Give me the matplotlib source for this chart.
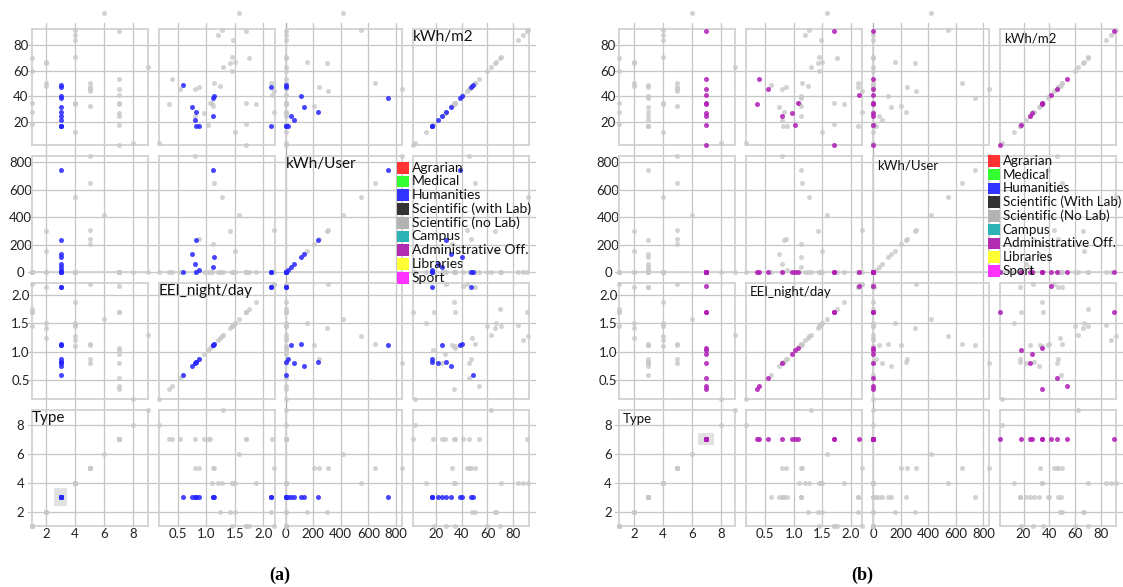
import matplotlib
matplotlib.use("Agg")
import matplotlib.pyplot as plt
from matplotlib.patches import Rectangle

plt.rcParams["font.family"] = ["Lato", "DejaVu Sans"]

# one entry per building: type code, EEI night/day ratio, kWh per user, kWh per m2
types = [1, 1, 1, 1, 1,
         2, 2, 2, 2,
         3, 3, 3, 3, 3, 3, 3, 3, 3, 3, 3,
         4, 4, 4, 4, 4, 4, 4,
         5, 5, 5, 5, 5,
         6,
         7, 7, 7, 7, 7, 7, 7, 7, 7, 7,
         8,
         9]
eei = [1.70, 1.70, 1.75, 2.19, 1.45,
       1.50, 1.42, 2.13, 1.25,
       0.60, 0.75, 0.80, 0.82, 0.83, 0.88, 1.12, 1.13, 1.12, 2.13, 2.13,
       1.27, 1.20, 1.47, 1.45, 1.10, 1.50, 1.88,
       0.80, 1.14, 2.19, 0.87, 1.12,
       1.58,
       1.70, 1.70, 2.15, 1.03, 0.97, 0.80, 1.07, 0.35, 0.55, 0.40,
       0.17,
       1.30]
kwh_user = [0, 0, 0, 0, 0,
            155, 300, 0, 0,
            0, 130, 60, 0, 235, 20, 740, 110, 40, 0, 5,
            545, 0, 0, 0, 0, 0, 0,
            843, 646, 307, 243, 204,
            416,
            0, 0, 0, 0, 0, 0, 0, 0, 0, 0,
            0,
            0]
kwh_m2 = [18.4, 34.8, 70.0, 27.5, 60.0,
          66.8, 66.0, 50.0, 48.0,
          49.0, 32.0, 22.0, 17.0, 28.0, 17.0, 39.0, 40.0, 25.0, 47.0, 17.0,
          91.7, 87.8, 84.0, 70.4, 34.5, 12.5, 34.0,
          46.0, 50.0, 44.0, 47.0, 32.5,
          105.0,
          2.0, 90.6, 41.3, 17.7, 26.7, 24.9, 34.5, 34.0, 45.7, 53.5,
          3.4,
          62.6]

var_names = ["Type", "EEI_night/day", "kWh/User", "kWh/m2"]
var_limits = [(1, 9), (0.17, 2.2), (0, 843), (2, 92)]
var_ticks = [[2, 4, 6, 8], [0.5, 1.0, 1.5, 2.0], [0, 200, 400, 600, 800], [20, 40, 60, 80]]
var_ticklabels = [["2", "4", "6", "8"], ["0.5", "1.0", "1.5", "2.0"],
                  ["0", "200", "400", "600", "800"], ["20", "40", "60", "80"]]

col_vars = [0, 1, 2, 3]   # Type, EEI, kWh/User, kWh/m2 left to right
row_vars = [3, 2, 1, 0]   # kWh/m2, kWh/User, EEI, Type top to bottom

category_names_a = ["Agrarian", "Medical", "Humanities", "Scientific (with Lab)",
                    "Scientific (no Lab)", "Campus", "Administrative Off.", "Libraries", "Sport"]
category_names_b = ["Agrarian", "Medical", "Humanities", "Scientific (With Lab)",
                    "Scientific (No Lab)", "Campus", "Administrative Off.", "Libraries", "Sport"]
category_colors = ["#ff3333", "#33ff33", "#3333ff", "#333333", "#b3b3b3",
                   "#2db3b3", "#b02cb0", "#ffff33", "#ff33ff"]

W, H = 1123, 587
BOX = 116
STEP = 127
TOP = 29.3
GRID = "#c6c6c6"
FRAME = "#d2d2d2"
GRAY = "#c8c8c8"

columns = [types, eei, kwh_user, kwh_m2]


def px_axes(fig, left, top):
    return fig.add_axes([left / W, 1 - (top + BOX) / H, BOX / W, BOX / H])


def draw_matrix(fig, x0, sel_type, sel_color, names, legend_x, legend_y, legend_size,
                label_size, label_dx, label_dy, sel_box, tag, tag_x):
    span = 3 * STEP + BOX
    sel = [t == sel_type for t in types]
    for r in range(4):
        for c in range(4):
            xv, yv = col_vars[c], row_vars[r]
            ax = px_axes(fig, x0 + c * STEP, TOP + r * STEP)
            ax.patch.set_visible(False)
            ax.set_xlim(*var_limits[xv])
            ax.set_ylim(*var_limits[yv])
            for sp in ax.spines.values():
                sp.set_color(FRAME)
                sp.set_linewidth(1.3)
            ax.tick_params(length=0, labelsize=9.5, colors="#222222")

            # grid lines shared across the whole matrix
            if c == 0:
                for t in var_ticks[yv]:
                    ax.axhline(t, xmin=-4 / BOX, xmax=(span + 6) / BOX, color=GRID,
                               lw=0.9, zorder=0.5, clip_on=False)
                ax.set_yticks(var_ticks[yv], var_ticklabels[yv])
                ax.tick_params(axis="y", pad=8)
                for lbl in ax.get_yticklabels():
                    lbl.set_horizontalalignment("center")
            else:
                ax.set_yticks([])
            if r == 0:
                for t in var_ticks[xv]:
                    ax.axvline(t, ymin=1 - span / BOX, ymax=1 + 6 / BOX,
                               color="#a8a8a8" if (xv == 2 and t == 0) else GRID,
                               lw=0.9, zorder=0.5, clip_on=False)
            if r == 3:
                ax.set_xticks(var_ticks[xv], var_ticklabels[xv])
                ax.tick_params(axis="x", pad=1.5)
            else:
                ax.set_xticks([])

            # points past the right end of a column range are left out
            xmax = var_limits[xv][1]
            xs, ys = columns[xv], columns[yv]
            keep = [x <= xmax for x in xs]
            gx = [x for x, s, k in zip(xs, sel, keep) if k and not s]
            gy = [y for y, s, k in zip(ys, sel, keep) if k and not s]
            hx = [x for x, s, k in zip(xs, sel, keep) if k and s]
            hy = [y for y, s, k in zip(ys, sel, keep) if k and s]

            if xv == yv:
                if xv == 0:
                    ax.add_patch(Rectangle((sel_type - sel_box[0] / 2, sel_type - sel_box[1] / 2),
                                           sel_box[0], sel_box[1], facecolor="#e2e2e2",
                                           edgecolor="none", zorder=1))
                ax.annotate(var_names[xv], xy=(0, 1), xycoords="axes fraction",
                            xytext=(label_dx, -label_dy), textcoords="offset points",
                            ha="left", va="center", fontsize=label_size, color="#111111",
                            zorder=6)

            ax.scatter(gx, gy, s=13, color=GRAY, alpha=0.8, linewidths=0,
                       zorder=3, clip_on=False)
            ax.scatter(hx, hy, s=13, color=sel_color, alpha=0.85, linewidths=0,
                       zorder=4, clip_on=False)

    # legend drawn as colour squares and labels
    for i, (name, col) in enumerate(zip(names, category_colors)):
        yc = legend_y + i * 13.75
        fig.patches.append(Rectangle((legend_x / W, 1 - (yc + 5.8) / H), 11.6 / W, 11.6 / H,
                                     transform=fig.transFigure, facecolor=col,
                                     edgecolor="none", zorder=5))
        fig.text((legend_x + 14.5) / W, 1 - yc / H, name, fontsize=legend_size, ha="left",
                 va="center", color="#111111", zorder=6)

    fig.text(tag_x / W, 1 - 575 / H, tag, fontsize=13, fontweight="bold",
             family=["Liberation Serif", "DejaVu Serif"], ha="center", va="center")


def main():
    fig = plt.figure(figsize=(W / 100, H / 100), dpi=100)
    draw_matrix(fig, 31.7, 3, "#2626ff", category_names_a, 397.3, 167.7, 10,
                11, 0, 5.2, (0.88, 1.24), "(a)", 280)
    draw_matrix(fig, 619.3, 7, "#b01cb4", category_names_b, 988.3, 160.8, 9.6,
                9.5, 2.5, 6.5, (1.08, 0.83), "(b)", 862)
    fig.savefig("out.png", dpi=100)


if __name__ == "__main__":
    main()
